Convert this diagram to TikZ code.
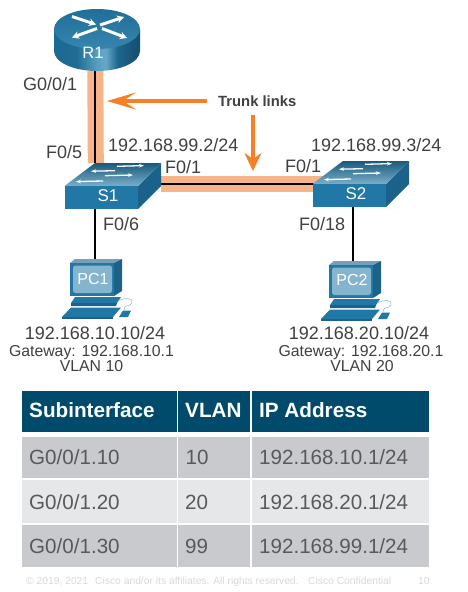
\documentclass[tikz,border=0pt]{standalone}
\usepackage{fontspec}
\setmainfont{Liberation Sans}
\usetikzlibrary{arrows.meta}
\pgfdeclarelayer{links}
\pgfsetlayers{links,main}
\definecolor{txt}{HTML}{404042}
\definecolor{celltxt}{HTML}{58595B}
\definecolor{band}{HTML}{F6B48A}
\definecolor{arrowor}{HTML}{F58025}
\definecolor{head}{HTML}{004B6B}
\definecolor{rowa}{HTML}{C8CACD}
\definecolor{rowb}{HTML}{E6E7E9}
\definecolor{foot}{HTML}{D9D9D9}
\definecolor{swfront}{HTML}{2178A6}
\definecolor{swside}{HTML}{1B6189}
\pgfdeclarehorizontalshading{cylbody}{100bp}{
 rgb(0bp)=(0.11,0.42,0.58); rgb(25bp)=(0.11,0.42,0.58); rgb(38bp)=(0.12,0.42,0.58);
 rgb(50bp)=(0.35,0.62,0.75); rgb(55bp)=(0.40,0.66,0.78); rgb(62bp)=(0.12,0.40,0.56);
 rgb(72bp)=(0.09,0.32,0.46); rgb(100bp)=(0.05,0.22,0.33)}
\tikzset{
 lbl/.style={anchor=base west,inner sep=0pt,text=txt,font=\fontsize{18}{20}\selectfont},
 gate/.style={anchor=base,inner sep=0pt,text=txt,font=\fontsize{15.8}{18}\selectfont},
 ipc/.style={anchor=base,inner sep=0pt,text=txt,font=\fontsize{18}{20}\selectfont},
 devtext/.style={anchor=base,inner sep=0pt,text=white},
 hit/.style={rectangle,inner sep=0pt,outer sep=0pt},
 hd/.style={anchor=base west,inner sep=0pt,text=white,font=\bfseries\fontsize{20.7}{24}\selectfont},
 cel/.style={anchor=base west,inner sep=0pt,text=celltxt,font=\fontsize{20.6}{24}\selectfont},
 ft/.style={anchor=base west,inner sep=0pt,text=foot,font=\fontsize{10.3}{12}\selectfont},
 trunkband/.style={draw=band,line width=16pt},
 wire/.style={draw=black,line width=2.4pt},
 callout/.style={draw=arrowor,line width=3.6pt},
 iconarrow/.style={draw=white,line width=3pt,-{Stealth[length=7pt,width=7.5pt]}}
}
\newcommand{\swicon}{%
 \fill[swside] (138,186)--(161,163)--(161,186)--(138,209)--cycle;
 \shade[top color=swfront!75!black,bottom color=swfront!60!white] (64.5,186)--(95,163)--(161,163)--(138,186)--cycle;
 \fill[swfront] (64.5,186) rectangle (138,209);
 \draw[white,line width=1.3pt,-{Stealth[length=5pt,width=3.5pt]}] (117,166.3)--(144,165.6);
 \draw[white,line width=1.3pt,-{Stealth[length=5pt,width=3.5pt]}] (115,170.7)--(91,171.2);
 \draw[white,line width=1.3pt,-{Stealth[length=5pt,width=3.5pt]}] (105,175.7)--(133,175);
 \draw[white,line width=1.3pt,-{Stealth[length=5pt,width=3.5pt]}] (103,181)--(76,181.6);
}
\newcommand{\pcicon}{%
 \fill[swside!60!white] (70,263)--(75,259)--(122,259)--(114,263)--cycle;
 \fill[swside] (114,263)--(122,259)--(122,291)--(114,296)--cycle;
 \fill[swfront] (70,263) rectangle (114,296);
 \fill[rounded corners=2.5pt,swfront!55!white] (73,265.5) rectangle (112,293);
 \fill[swfront] (71,303)--(75,297)--(121,297)--(117,303)--cycle;
 \fill[swside] (71,303)--(117,303)--(116,306)--(71,306)--cycle;
 \fill[swfront] (62,317)--(71,307.5)--(121,307.5)--(113,317)--cycle;
 \fill[swside] (62,317)--(113,317)--(113,318.5)--(62,318.5)--cycle;
 \fill[swfront] (119,317)--(123,310.5)--(131,310.5)--(128,317)--cycle;
 \draw[swfront!50!white,line width=.6pt] (118,301) .. controls (125,297) and (134,298) .. (132,303) .. controls (130,307) and (124,304) .. (124,310);
}
\newcommand{\cellbox}[5]{\fill[#5] (#1,#2) rectangle (#3,#4);}
\begin{document}
\begin{tikzpicture}[x=1pt,y=-1pt]
\useasboundingbox (0,0) rectangle (467,592);
\begin{pgfonlayer}{links}
 \fill[white] (0,0) rectangle (467,592);
\end{pgfonlayer}
% router icon
\shade[shading=cylbody] (54,29)--(54,51) arc[start angle=180,end angle=0,x radius=43,y radius=20]--(140,29)--cycle;
\shade[top color=swfront!92!black,bottom color=swfront!90!white] (97,29) ellipse[x radius=43,y radius=20];
\draw[iconarrow] (72,16.5)--(96,24.5);
\draw[iconarrow] (100,25)--(124,17);
\draw[iconarrow] (97,28.5)--(72,37.5);
\draw[iconarrow] (102,28.5)--(127,38);
% switches
\swicon
\begin{scope}[shift={(248,-2)}]\swicon\end{scope}
% PCs
\pcicon
\begin{scope}[shift={(259,2)}]\pcicon\end{scope}
% device nodes
\node[hit,minimum width=86pt,minimum height=62pt] (r1box) at (95,40) {};
\node[hit,minimum width=132pt,minimum height=46pt] (s1box) at (95,186) {};
\node[hit,minimum width=80pt,minimum height=46pt] (s2box) at (353,184) {};
\node[hit,minimum width=60pt,minimum height=60pt] (pc1box) at (95,289) {};
\node[hit,minimum width=60pt,minimum height=60pt] (pc2box) at (353,291) {};
\node[devtext,font=\fontsize{16.5}{18}\selectfont] (r1) at (93,58) {R1};
\node[devtext,font=\fontsize{17}{19}\selectfont] (s1) at (108,201) {S1};
\node[devtext,font=\fontsize{17}{19}\selectfont] (s2) at (356,199) {S2};
\node[devtext,font=\fontsize{16}{18}\selectfont] (pc1) at (93,284) {PC1};
\node[devtext,font=\fontsize{16}{18}\selectfont] (pc2) at (352,285) {PC2};
% links
\begin{pgfonlayer}{links}
 \draw[trunkband] ([xshift=.3pt]r1box.south) -- ([xshift=.8pt]s1box.north);
 \draw[trunkband] ([yshift=2pt]s1box.east) -- ([xshift=12pt]s2box.west);
 \draw[wire] (r1box.south) -- (s1box.north);
 \draw[wire] ([yshift=2pt]s1box.east) -- ([xshift=12pt]s2box.west);
 \draw[wire] (s1box.south) -- (pc1box.north);
 \draw[wire] (s2box.south) -- (pc2box.north);
\end{pgfonlayer}
% port labels
\node[lbl] (p1) at (23,90) {G0/0/1};
\node[lbl] (p2) at (46,158) {F0/5};
\node[lbl] (p3) at (165,173) {F0/1};
\node[lbl] (p4) at (103,230) {F0/6};
\node[lbl] (p5) at (285,172) {F0/1};
\node[lbl] (p6) at (299,230) {F0/18};
\node[lbl] (ip1) at (108,151) {192.168.99.2/24};
\node[lbl] (ip2) at (311,151) {192.168.99.3/24};
% callout
\node[anchor=west,inner xsep=11pt,inner ysep=8pt,text=txt,font=\bfseries\fontsize{14.8}{17}\selectfont] (trunk) at (207,101) {Trunk links};
\coordinate (tipa) at (107,101);
\coordinate (tipb) at (253,171);
\draw[callout,-{Stealth[length=29pt,width=17pt,inset=13pt]}] (trunk.west) -- (tipa);
\draw[callout,-{Stealth[length=18pt,width=17pt,inset=6pt]}] (trunk.south -| tipb) -- (tipb);
% PC captions
\node[ipc] (a1) at (95,339) {192.168.10.10/24};
\node[gate] (a2) at (91.5,356) {Gateway: 192.168.10.1};
\node[gate] (a3) at (91.5,371) {VLAN 10};
\node[ipc] (b1) at (359,339) {192.168.20.10/24};
\node[gate] (b2) at (361,356) {Gateway: 192.168.20.1};
\node[gate] (b3) at (362,371) {VLAN 20};
% table
\cellbox{22}{391}{176.5}{432}{head}
\cellbox{178}{391}{250}{432}{head}
\cellbox{251.5}{391}{429}{432}{head}
\cellbox{22}{437}{176.5}{478}{rowa}
\cellbox{178}{437}{250}{478}{rowa}
\cellbox{251.5}{437}{429}{478}{rowa}
\cellbox{22}{480}{176.5}{523}{rowb}
\cellbox{178}{480}{250}{523}{rowb}
\cellbox{251.5}{480}{429}{523}{rowb}
\cellbox{22}{525}{176.5}{567}{rowa}
\cellbox{178}{525}{250}{567}{rowa}
\cellbox{251.5}{525}{429}{567}{rowa}
\node[hd] (h1) at (29,417) {Subinterface};
\node[hd] (h2) at (185,417) {VLAN};
\node[hd] (h3) at (259,417) {IP Address};
\node[cel] (c11) at (29,464) {G0/0/1.10};
\node[cel] (c12) at (185.5,464) {10};
\node[cel] (c13) at (259,464) {192.168.10.1/24};
\node[cel] (c21) at (29,509) {G0/0/1.20};
\node[cel] (c22) at (185,509) {20};
\node[cel] (c23) at (259,509) {192.168.20.1/24};
\node[cel] (c31) at (29,553) {G0/0/1.30};
\node[cel] (c32) at (185,553) {99};
\node[cel] (c33) at (259,553) {192.168.99.1/24};
% footer
\node[ft] (f1) at (26,584) {© 2019, 2021};
\node[ft] (f2) at (95,584) {Cisco and/or its affiliates. All rights reserved.};
\node[ft] (f3) at (308,584) {Cisco Confidential};
\node[ft] (f4) at (418,584) {10};
\end{tikzpicture}
\end{document}
